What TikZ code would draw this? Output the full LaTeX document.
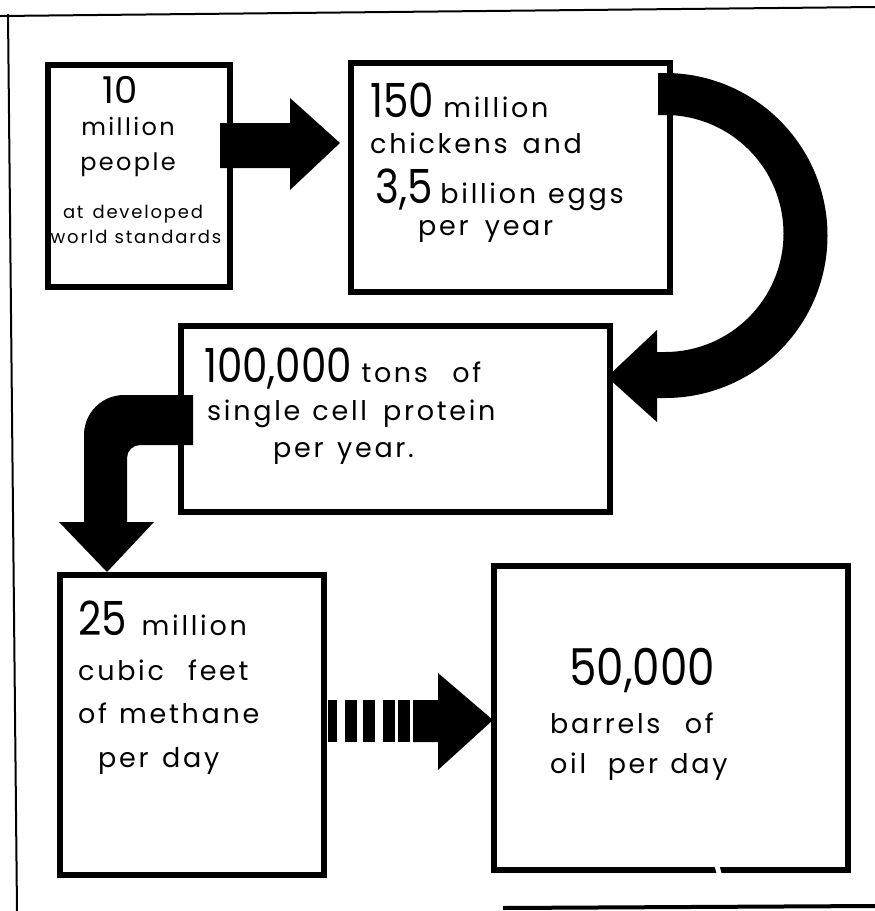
\documentclass[tikz,border=0pt]{standalone}
\usepackage{fontspec}
\setmainfont{Poppins}[LetterSpace=10]
\newcommand\BigDigits[1]{\scalebox{0.86}[1]{\fontsize{47}{47}\selectfont\addfontfeatures{LetterSpace=0}#1}}
\newcommand\MidText{\fontsize{27}{27}\selectfont}
\newcommand\Gap[1]{\hspace{#1em}}
\begin{document}
\begin{tikzpicture}[x=1pt,y=1pt,yscale=-1,
  box/.style={draw=black,line width=6.5pt,fill=none,inner sep=0pt},
  txt/.style={inner sep=0pt,anchor=base west,font=\MidText},
  ctxt/.style={inner sep=0pt,anchor=base},
  blockarrow/.style={fill=black,draw=none},
  frameline/.style={draw=black,line width=2pt}]
\useasboundingbox (0,0) rectangle (875,911);
% outer frame
\coordinate (fa) at (0,16);
\coordinate (fb) at (875,7);
\coordinate (fc) at (8,14);
\coordinate (fd) at (17,911);
\coordinate (fe) at (503,908);
\coordinate (ff) at (875,906);
\draw[frameline] (fa) -- (fb);
\draw[frameline] (fc) -- (fd);
\draw[draw=black,line width=4pt] (fe) -- (ff);
% boxes
\node[box,minimum width=182pt,minimum height=222pt] (b1) at (139,176) {};
\node[box,minimum width=319pt,minimum height=229pt] (b2) at (510.5,177.5) {};
\node[box,minimum width=429pt,minimum height=186pt] (b3) at (395.5,419) {};
\node[box,minimum width=264pt,minimum height=300pt] (b4) at (192,725) {};
\node[box,minimum width=354pt,minimum height=304pt] (b5) at (671,718) {};
% scan gap in box 5 bottom edge
\fill[white] (714,864) -- (719,864) -- (722,875) -- (717,875) -- cycle;
% box 1 text
\node[ctxt,font=\fontsize{37}{37}\selectfont\addfontfeatures{LetterSpace=0}] (t1a) at (120,103) {10};
\node[ctxt,font=\fontsize{24}{24}\selectfont] (t1b) at (128,135) {million};
\node[ctxt,font=\fontsize{24}{24}\selectfont] (t1c) at (128,170) {people};
\node[ctxt,font=\fontsize{18}{18}\selectfont] (t1d) at (133,218) {at\Gap{0.5}developed};
\node[ctxt,font=\fontsize{18}{18}\selectfont] (t1e) at (136,243) {world\Gap{0.4}standards};
% box 2 text
\node[txt] (t2a) at (370,117) {\BigDigits{150}\Gap{0.35}million};
\node[txt] (t2b) at (370,153) {chickens\Gap{0.55}and};
\node[txt] (t2c) at (375,203) {\BigDigits{3,5}\Gap{0.3}billion\Gap{0.45}eggs};
\node[txt] (t2d) at (418,235) {per\Gap{0.6}year};
% box 3 text
\node[txt] (t3a) at (204,382) {\BigDigits{100,000}\Gap{0.35}tons\Gap{0.9}of};
\node[txt] (t3b) at (207,420) {single\Gap{0.45}cell\Gap{0.6}protein};
\node[txt] (t3c) at (273,457) {per\Gap{0.5}year.};
% box 4 text
\node[txt] (t4a) at (78,635) {\BigDigits{25}\Gap{0.55}million};
\node[txt] (t4b) at (78,680) {cubic\Gap{0.9}feet};
\node[txt] (t4c) at (78,723) {of\Gap{0.45}methane};
\node[txt] (t4d) at (98,767) {per\Gap{0.5}day};
% box 5 text
\node[txt] (t5a) at (569,685) {\scalebox{1.08}{\BigDigits{50,000}}};
\node[txt] (t5b) at (550,733) {barrels\Gap{0.9}of};
\node[txt] (t5c) at (550,773) {oil\Gap{0.8}per\Gap{0.45}day};
% arrow 1: b1 -> b2
\coordinate (a1s) at (220,123);
\coordinate (a1t) at (340,143);
\fill[blockarrow] (a1s) -- (290,123) -- (290,98) -- (a1t) -- (290,190) -- (290,168)
  -- (220,168) -- cycle;
% arrow 2: b2 -> b3 (curved)
\coordinate (a2s) at (658,73);
\coordinate (a2t) at (607,377);
\fill[blockarrow] (a2s) -- (665,73) arc[start angle=-90,end angle=90,radius=162.5]
  -- (657,398) -- (657,422) -- (a2t) -- (657,330) -- (657,352)
  -- (665,352) arc[start angle=90,end angle=-90,radius=118.5] -- (658,115) -- cycle;
% arrow 3: b3 -> b4 (bent)
\coordinate (a3s) at (193,395);
\coordinate (a3t) at (107,572);
\fill[blockarrow] (a3s) -- (124,395) arc[start angle=-90,end angle=-180,radius=40]
  -- (84,522) -- (59,522) -- (a3t) -- (154,522) -- (127,522)
  -- (127,458) arc[start angle=180,end angle=270,radius=13] -- (193,445) -- cycle;
% arrow 4: b4 -> b5 (striped)
\coordinate (a4s) at (328,700);
\coordinate (a4t) at (493,720);
\fill[blockarrow] (a4s) rectangle (337,742);
\fill[blockarrow] (345,700) rectangle (357,742);
\fill[blockarrow] (363,700) rectangle (375,742);
\fill[blockarrow] (383,700) rectangle (395,742);
\fill[blockarrow] (398,700) rectangle (410,742);
\fill[blockarrow] (413,700) -- (438,700) -- (438,673) -- (a4t)
  -- (438,770) -- (438,742) -- (413,742) -- cycle;
\end{tikzpicture}
\end{document}
